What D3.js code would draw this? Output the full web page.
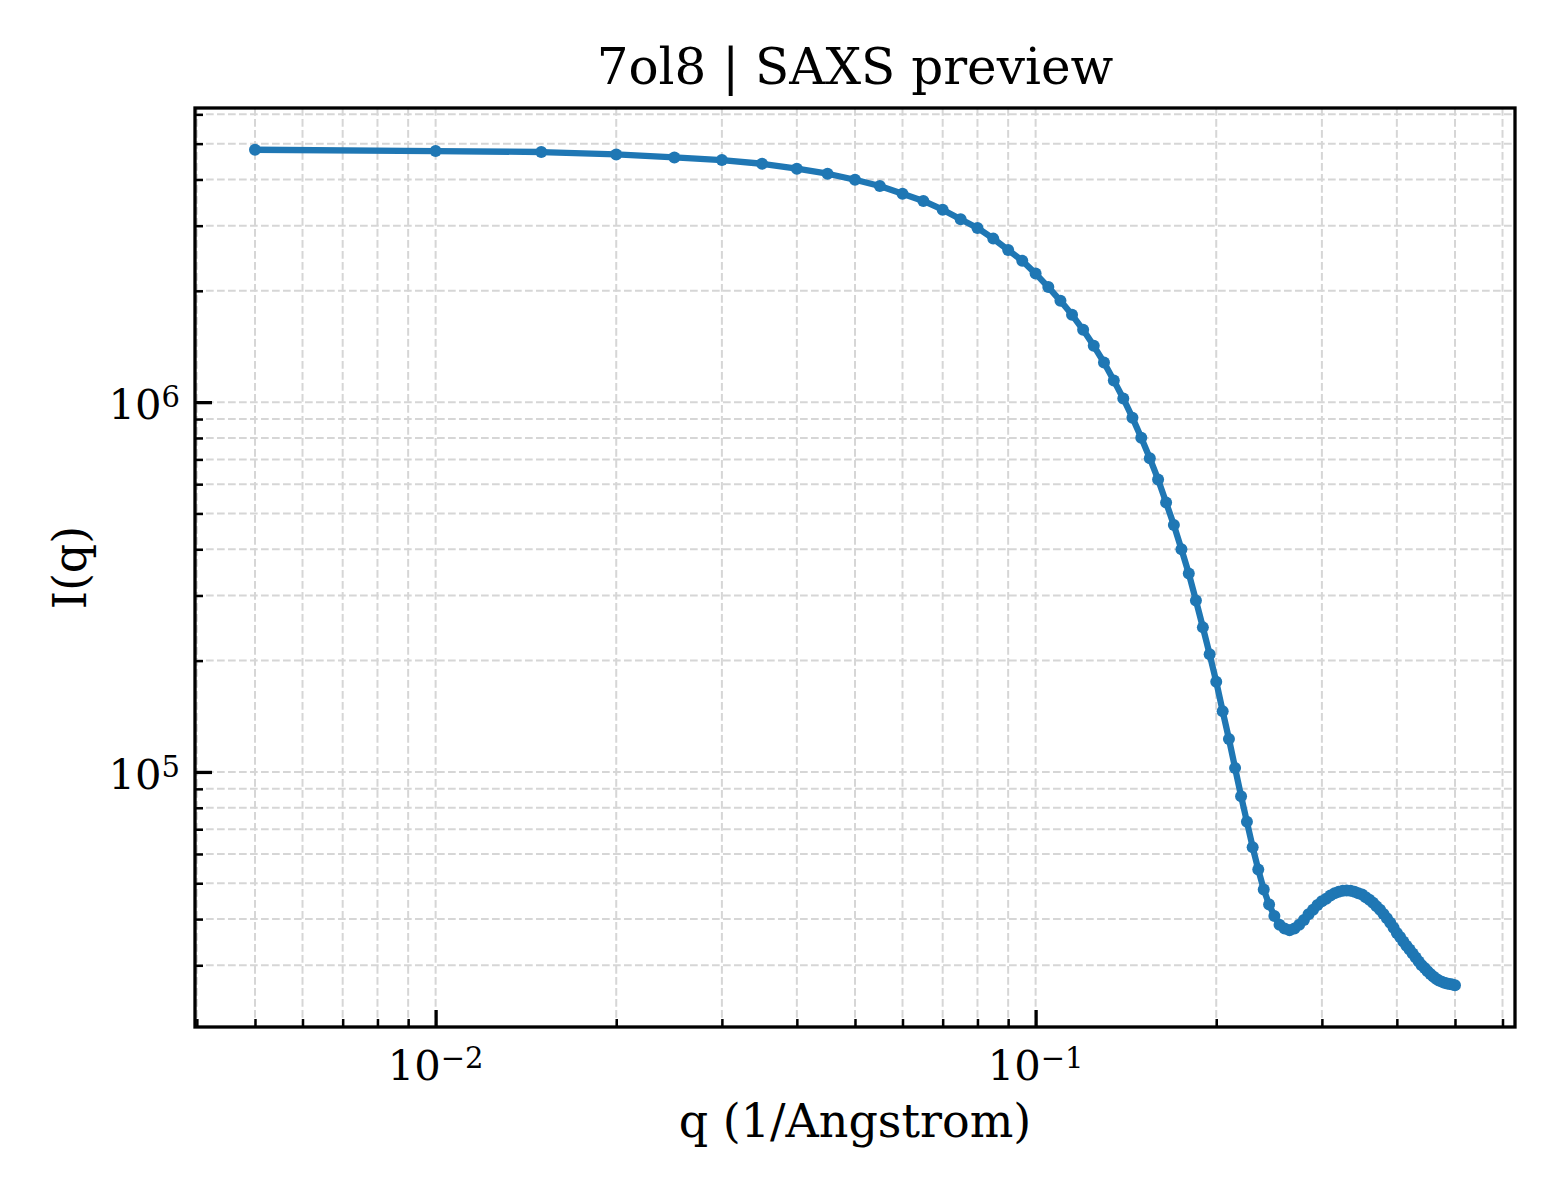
<!DOCTYPE html>
<html>
<meta charset="utf-8">
<style>
  body { margin: 0; background: #fff; }
  svg text { font-family: "DejaVu Serif", serif; fill: #000; }
  .grid line { stroke: #d6d6d6; stroke-width: 2; stroke-dasharray: 7.7 3.3; }
  .axis path { display: none; }
  .axis line { stroke: #000; }
</style>
<body>
<script src="https://d3js.org/d3.v7.min.js"></script>
<script>
  // SAXS curve: q in 1/Angstrom, I(q) arbitrary units
  const qValues = [
    0.005, 0.010, 0.015, 0.020, 0.025, 0.030, 0.035, 0.040, 0.045, 0.050,
    0.055, 0.060, 0.065, 0.070, 0.075, 0.080, 0.085, 0.090, 0.095, 0.100,
    0.105, 0.110, 0.115, 0.120, 0.125, 0.130, 0.135, 0.140, 0.145, 0.150,
    0.155, 0.160, 0.165, 0.170, 0.175, 0.180, 0.185, 0.190, 0.195, 0.200,
    0.205, 0.210, 0.215, 0.220, 0.225, 0.230, 0.235, 0.240, 0.245, 0.250,
    0.255, 0.260, 0.265, 0.270, 0.275, 0.280, 0.285, 0.290, 0.295, 0.300,
    0.305, 0.310, 0.315, 0.320, 0.325, 0.330, 0.335, 0.340, 0.345, 0.350,
    0.355, 0.360, 0.365, 0.370, 0.375, 0.380, 0.385, 0.390, 0.395, 0.400,
    0.405, 0.410, 0.415, 0.420, 0.425, 0.430, 0.435, 0.440, 0.445, 0.450,
    0.455, 0.460, 0.465, 0.470, 0.475, 0.480, 0.485, 0.490, 0.495, 0.500
  ];
  const intensity = [
    4813000, 4775000, 4746000, 4675000, 4588000, 4515000, 4412000, 4277000, 4146000, 3994000,
    3841000, 3661000, 3499000, 3315000, 3121000, 2958000, 2768000, 2580000, 2413000, 2226000,
    2047000, 1879000, 1722000, 1569000, 1420000, 1280000, 1144000, 1023000, 908000, 801000,
    705000, 618000, 535000, 465000, 400000, 344000, 291000, 246000, 208000, 175400,
    145900, 122800, 102500, 86000, 73300, 62600, 54500, 48100, 43800, 40800,
    38600, 37700, 37300, 37700, 38600, 39800, 41200, 42400, 43700, 44700,
    45400, 46300, 47000, 47400, 47700, 47800, 47700, 47400, 47000, 46600,
    45800, 45100, 44300, 43300, 42400, 41300, 40200, 39100, 37900, 36700,
    35800, 34800, 33900, 33100, 32300, 31500, 30700, 30000, 29500, 28900,
    28400, 28000, 27600, 27300, 27100, 26900, 26800, 26700, 26600, 26500
  ];
  const xMajor = [0.01, 0.1];
  const xMajorExp = ["\u22122", "\u22121"];
  const yMajor = [1e5, 1e6];
  const yMajorExp = ["5", "6"];

  const titleText = "7ol8 | SAXS preview";
  const xLabel = "q (1/Angstrom)";
  const yLabel = "I(q)";

  let width = 1560, height = 1200;
  let margin = {left: 195, right: 45, top: 108, bottom: 173};
  let plotW = width - margin.left - margin.right,
      plotH = height - margin.top - margin.bottom;

  let data = qValues.map((q, i) => ({q: q, I: intensity[i]}));

  // matplotlib-like 5% padding in log space
  function padLog(ext) {
    let a = Math.log10(ext[0]), b = Math.log10(ext[1]), m = (b - a) * 0.05;
    return [Math.pow(10, a - m), Math.pow(10, b + m)];
  }

  let x = d3.scaleLog().domain(padLog(d3.extent(qValues))).range([margin.left, margin.left + plotW]);
  let y = d3.scaleLog().domain(padLog(d3.extent(intensity))).range([margin.top + plotH, margin.top]);

  let svg = d3.select("body").append("svg")
    .attr("width", width)
    .attr("height", height);

  svg.append("rect").attr("width", width).attr("height", height).attr("fill", "#fff");

  let xAll = x.ticks().filter(d => d >= x.domain()[0] && d <= x.domain()[1]);
  let yAll = y.ticks().filter(d => d >= y.domain()[0] && d <= y.domain()[1]);
  let isMajor = d => Math.abs(Math.log10(d) - Math.round(Math.log10(d))) < 1e-9;

  // grid (major + minor)
  let grid = svg.append("g").attr("class", "grid");
  grid.selectAll(".vx").data(xAll).join("line")
    .attr("x1", d => x(d)).attr("x2", d => x(d))
    .attr("y1", margin.top).attr("y2", margin.top + plotH);
  grid.selectAll(".hy").data(yAll).join("line")
    .attr("class", "hy")
    .attr("y1", d => y(d)).attr("y2", d => y(d))
    .attr("x1", margin.left).attr("x2", margin.left + plotW);

  // curve
  let line = d3.line().x(d => x(d.q)).y(d => y(d.I));
  svg.append("path")
    .datum(data)
    .attr("d", line)
    .attr("fill", "none")
    .attr("stroke", "#1f77b4")
    .attr("stroke-width", 6.3)
    .attr("stroke-linejoin", "round");

  svg.selectAll(".pt").data(data).join("circle")
    .attr("class", "pt")
    .attr("cx", d => x(d.q))
    .attr("cy", d => y(d.I))
    .attr("r", 6)
    .attr("fill", "#1f77b4");

  // inward ticks, bottom and left only
  let xMinorAxis = d3.axisBottom(x).tickValues(xAll.filter(d => !isMajor(d))).tickSize(-8).tickFormat("");
  let xMajorAxis = d3.axisBottom(x).tickValues(xMajor).tickSize(-17).tickFormat("");
  let yMinorAxis = d3.axisLeft(y).tickValues(yAll.filter(d => !isMajor(d))).tickSize(-8).tickFormat("");
  let yMajorAxis = d3.axisLeft(y).tickValues(yMajor).tickSize(-17).tickFormat("");

  svg.append("g").attr("class", "axis minor").attr("transform", `translate(0,${margin.top + plotH})`).call(xMinorAxis);
  svg.append("g").attr("class", "axis major").attr("transform", `translate(0,${margin.top + plotH})`).call(xMajorAxis);
  svg.append("g").attr("class", "axis minor").attr("transform", `translate(${margin.left},0)`).call(yMinorAxis);
  svg.append("g").attr("class", "axis major").attr("transform", `translate(${margin.left},0)`).call(yMajorAxis);
  svg.selectAll(".axis.minor line").attr("stroke-width", 2.5);
  svg.selectAll(".axis.major line").attr("stroke-width", 3.3);

  // frame
  svg.append("rect")
    .attr("x", margin.left).attr("y", margin.top)
    .attr("width", plotW).attr("height", plotH)
    .attr("fill", "none").attr("stroke", "#000").attr("stroke-width", 3.3);

  // tick labels 10^n
  let xl = svg.selectAll(".xtl").data(xMajor).join("text")
    .attr("class", "xtl")
    .attr("x", d => x(d))
    .attr("y", margin.top + plotH + 53)
    .attr("text-anchor", "middle")
    .style("font-size", "41.7px");
  xl.append("tspan").text("10");
  xl.append("tspan").attr("dy", "-0.42em").style("font-size", "29px").text((d, i) => xMajorExp[i]);

  let yl = svg.selectAll(".ytl").data(yMajor).join("text")
    .attr("class", "ytl")
    .attr("x", margin.left - 15)
    .attr("y", d => y(d) + 17)
    .attr("text-anchor", "end")
    .style("font-size", "41.7px");
  yl.append("tspan").text("10");
  yl.append("tspan").attr("dy", "-0.42em").style("font-size", "29px").text((d, i) => yMajorExp[i]);

  // title and axis labels
  svg.append("text")
    .attr("x", margin.left + plotW / 2)
    .attr("y", 84)
    .attr("text-anchor", "middle")
    .style("font-size", "50px")
    .text(titleText);

  svg.append("text")
    .attr("x", margin.left + plotW / 2)
    .attr("y", 1137)
    .attr("text-anchor", "middle")
    .style("font-size", "46px")
    .text(xLabel);

  svg.append("text")
    .attr("transform", `translate(86,${margin.top + plotH / 2}) rotate(-90)`)
    .attr("text-anchor", "middle")
    .style("font-size", "46px")
    .text(yLabel);
</script>
</body>
</html>
